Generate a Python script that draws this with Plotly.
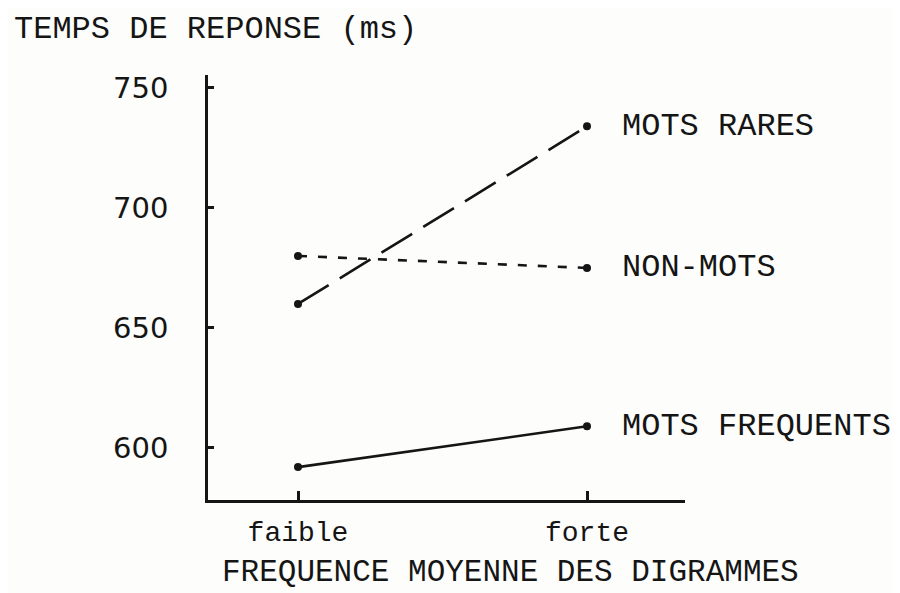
import plotly.graph_objects as go

categories = ["faible", "forte"]
x_pos = [0, 1]
mots_rares = [660, 734]
non_mots = [680, 675]
mots_frequents = [592, 609]
series_names = ["MOTS RARES", "NON-MOTS", "MOTS FREQUENTS"]
y_ticks = [600, 650, 700, 750]

MONO = "Liberation Mono"
INK = "#151515"

# page body adds an 8px offset: size figure to fit the window
W, H = 884, 585
l, r, t, b = 200, 207, 67, 93

fig = go.Figure()
series = [
    (mots_rares, "36px,13px"),
    (non_mots, "9px,11px"),
    (mots_frequents, "solid"),
]
for (vals, dash), name in zip(series, series_names):
    fig.add_trace(go.Scatter(
        x=x_pos, y=vals, mode="lines+markers", name=name,
        line=dict(color=INK, width=2.6, dash=dash),
        marker=dict(color=INK, size=8),
        showlegend=False, cliponaxis=False,
    ))
    fig.add_annotation(x=1, y=vals[1], xref="x", yref="y", text=name,
                       showarrow=False, xanchor="left", yanchor="middle",
                       xshift=33, font=dict(family=MONO, size=32, color=INK))

fig.update_xaxes(
    range=[-0.3114, 1.3391], tickvals=x_pos, ticktext=categories,
    showline=True, linecolor=INK, linewidth=2.5,
    ticks="inside", ticklen=9, tickwidth=3, tickcolor=INK,
    showgrid=False, zeroline=False,
    tickfont=dict(family=MONO, size=28, color=INK),
    ticklabelstandoff=5,
)
fig.update_yaxes(
    range=[578.3, 755.4], tickvals=y_ticks,
    showline=True, linecolor=INK, linewidth=2.5,
    ticks="inside", ticklen=6, tickwidth=3, tickcolor=INK,
    showgrid=False, zeroline=False,
    tickfont=dict(family="DejaVu Sans", size=29, color=INK),
    ticklabelstandoff=31,
)

pw, ph = W - l - r, H - t - b
def px_to_paper(x, y):
    return (x - 8 - l) / pw, (H - b - (y - 8)) / ph

ax, ay = px_to_paper(12, 30)
fig.add_annotation(x=ax, y=ay, xref="paper", yref="paper", text="TEMPS DE REPONSE (ms)",
                   showarrow=False, xanchor="left", yanchor="middle",
                   font=dict(family=MONO, size=32, color=INK))
bx, by = px_to_paper(510, 572)
fig.add_annotation(x=bx, y=by, xref="paper", yref="paper", text="FREQUENCE MOYENNE DES DIGRAMMES",
                   showarrow=False, xanchor="center", yanchor="middle",
                   font=dict(family=MONO, size=31, color=INK))

fig.update_layout(
    width=W, height=H,
    margin=dict(l=l, r=r, t=t, b=b),
    paper_bgcolor="#fdfdfc", plot_bgcolor="#fdfdfc",
)

fig.write_html("out.html")
